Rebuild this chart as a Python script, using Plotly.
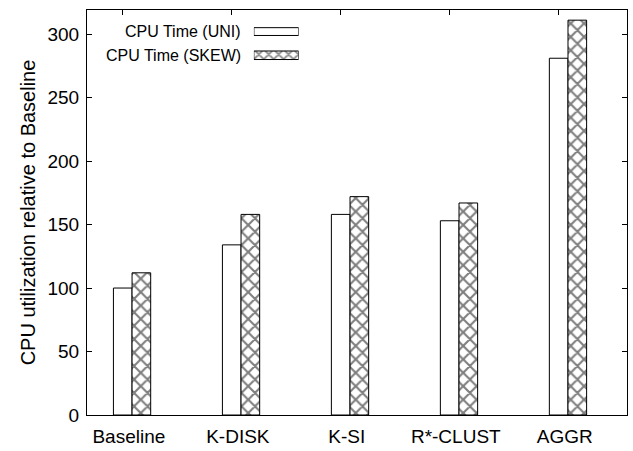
import plotly.graph_objects as go

# Benchmark results: CPU utilisation relative to the baseline method
categories = ["Baseline", "K-DISK", "K-SI", "R*-CLUST", "AGGR"]
cpu_uni = [100, 134, 158, 153, 281]
cpu_skew = [112, 158, 172, 167, 311]
y_ticks = [0, 50, 100, 150, 200, 250, 300]
series_names = ["CPU Time (UNI)", "CPU Time (SKEW)"]

FONT = "Liberation Sans, Arial, Helvetica, sans-serif"
BAR_W = 0.171
pos = list(range(len(categories)))

fig = go.Figure()

fig.add_trace(go.Bar(
    x=pos, y=cpu_uni, width=BAR_W, offset=-BAR_W / 2,
    marker=dict(color="white", line=dict(color="black", width=1)),
    name=series_names[0], showlegend=False,
))
fig.add_trace(go.Bar(
    x=pos, y=cpu_skew, width=BAR_W, offset=BAR_W / 2,
    marker=dict(color="white", line=dict(color="black", width=1),
                pattern=dict(shape="x", size=9.5, solidity=0.4,
                             fgcolor="black", bgcolor="white")),
    name=series_names[1], showlegend=False,
))

# Key swatches drawn as tiny horizontal bars in their own small axes
fig.add_trace(go.Bar(
    x=[1], y=[1], orientation="h", width=0.33, xaxis="x3", yaxis="y3",
    marker=dict(color="white", line=dict(color="black", width=1)),
    showlegend=False, hoverinfo="skip",
))
fig.add_trace(go.Bar(
    x=[1], y=[0], orientation="h", width=0.36, xaxis="x3", yaxis="y3",
    marker=dict(color="white", line=dict(color="black", width=1),
                pattern=dict(shape="x", size=7, solidity=0.4,
                             fgcolor="black", bgcolor="white")),
    showlegend=False, hoverinfo="skip",
))

for txt, yy in zip(series_names, [0.9467, 0.8883]):
    fig.add_annotation(text=txt, xref="paper", yref="paper", x=0.2886, y=yy,
                       xanchor="right", yanchor="middle", showarrow=False,
                       font=dict(family=FONT, size=16, color="black"))

x_range = [-0.328, 4.627]

fig.update_layout(
    width=633, height=451,
    margin=dict(l=86.7, r=4.7, t=10, b=33.5),
    plot_bgcolor="white", paper_bgcolor="white",
    font=dict(family=FONT, size=19, color="black"),
    barmode="overlay",
    xaxis=dict(
        range=x_range, tickmode="array",
        tickvals=[p + 0.056 for p in pos], ticktext=categories,
        ticks="", showgrid=False, zeroline=False,
        showline=True, linecolor="black", linewidth=1, mirror=True,
        tickfont=dict(size=19), ticklabelstandoff=4,
    ),
    xaxis2=dict(
        overlaying="x", side="top", range=x_range, tickmode="array",
        tickvals=pos, ticktext=["" for _ in pos], ticks="inside", ticklen=5,
        tickcolor="black", showgrid=False, zeroline=False, showline=False,
    ),
    yaxis=dict(
        range=[0, 319], tickmode="array", tickvals=y_ticks,
        ticks="inside", ticklen=5, tickcolor="black",
        showgrid=False, zeroline=False,
        showline=True, linecolor="black", linewidth=1, mirror="ticks",
        title=dict(text="CPU utilization relative to Baseline",
                   font=dict(size=20), standoff=6),
        tickfont=dict(size=19), ticklabelstandoff=3,
    ),
    xaxis3=dict(domain=[0.309, 0.392], range=[0, 1], visible=False,
                anchor="y3"),
    yaxis3=dict(domain=[0.859, 0.976], range=[-0.5, 1.5], visible=False,
                anchor="x3"),
)

# An invisible trace to put the top tick marks on xaxis2
fig.add_trace(go.Scatter(x=[pos[0]], y=[0], xaxis="x2", mode="markers",
                         marker=dict(opacity=0), showlegend=False,
                         hoverinfo="skip"))

fig.write_html("out.html")
